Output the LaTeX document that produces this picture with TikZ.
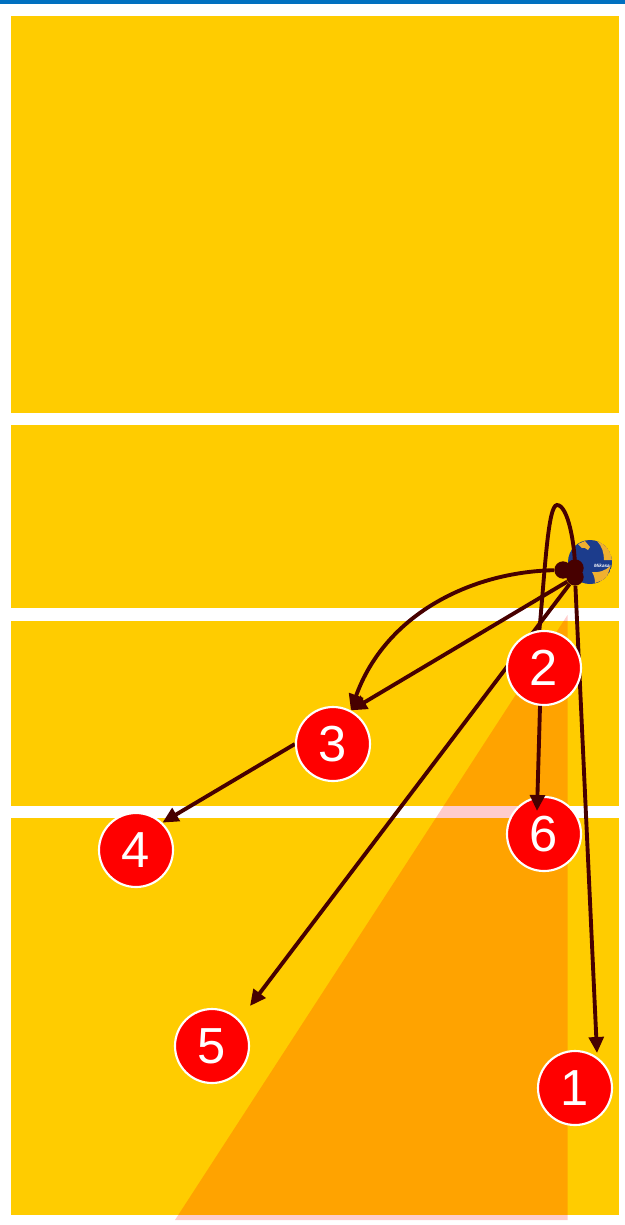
\documentclass[tikz,border=0pt]{standalone}
\usepackage{fontspec}
\setmainfont{Liberation Sans}
\usetikzlibrary{arrows.meta,positioning,backgrounds}
\pgfdeclarelayer{lines}
\pgfsetlayers{background,lines,main}
\definecolor{courtyellow}{HTML}{FFCC00}
\definecolor{topblue}{HTML}{0070C0}
\definecolor{pathbrown}{HTML}{470000}
\definecolor{ballblue}{HTML}{1C3C8C}
\definecolor{ballyellow}{HTML}{F0B030}
\tikzset{
  court/.style={fill=courtyellow},
  player/.style={circle,fill=red,draw=white,line width=1.6pt,minimum size=55.5pt,inner sep=0pt,
    text=white,font=\fontsize{38}{40}\selectfont},
  pass/.style={draw=pathbrown,line width=2.9pt},
  passto/.style={pass,-{Triangle[length=12pt,width=11pt]}},
  touch/.style={circle,fill=pathbrown,minimum size=13pt,inner sep=0pt}
}
\begin{document}
\begin{tikzpicture}[x=0.75pt,y=-0.75pt]
 \useasboundingbox (0,0) rectangle (625,1225);
 % players
 \node[player] (one) at (575,1088) {1};
 \node[player] (two) at (544,668) {2};
 \node[player] (three) at (333,744) {3};
 \node[player] (four) at (136,850) {4};
 \node[player] (five) at (212,1046) {5};
 \node[player] (six) at (544,834) {6};
 % ball contacts and free ends
 \coordinate (ball) at (590,562);
 \node[touch] (hitl) at (563,570) {};
 \node[touch] (hitr) at (575,568) {};
 \node[touch] (hitc) at (575,577) {};
 \coordinate (endone) at (597,1053);
 \coordinate (endfive) at (250,1006);
 \coordinate (endsix) at (537,811);
 \begin{scope}[on background layer]
  \fill[topblue] (0,0) rectangle (625,4);
  \fill[court] (11,16) rectangle (619,413);
  \fill[court] (11,425) rectangle (619,608);
  \fill[court] (11,621) rectangle (619,806);
  \fill[court] (11,818) rectangle (619,1215);
  \fill[red,fill opacity=0.2] (567.5,615)--(567.5,1220)--(175,1220)--cycle;
 \end{scope}
 \begin{pgfonlayer}{lines}
  % ball
  \begin{scope}
   \clip (ball) circle (22);
   \fill[ballblue] (ball) circle (22);
   \fill[ballyellow] (597,541)--(607,546)--(613,560)--(604,560)
     .. controls (604,553) and (602,546) .. cycle;
   \fill[ballyellow] (592,572) .. controls (598,573) and (606,571) .. (611,565)
     --(606,579)--(595,583) .. controls (595,579) and (594,575) .. cycle;
   \fill[ballyellow] (578,544)--(585,541)--(590,547)--(588,550)
     .. controls (586,548) and (583,547) .. (582,548)--cycle;
  \end{scope}
  \node[white,font=\fontsize{3.5}{4}\itshape\bfseries\selectfont] (brand) at (602,566) {Mikasa};
  % passes
  \draw[pass] (two.97) .. controls (545,570) and (548,505) .. (557,505)
    .. controls (568,505) and (575,545) .. (hitc);
  \draw[passto] (hitc)--(three.62);
  \draw[passto] (hitl) .. controls (470,572) and (385,615) .. (three.62);
  \draw[passto] (hitc)--(endfive);
  \draw[passto] (three.west)--(four.46);
  \draw[passto] (hitc)--(endone);
 \end{pgfonlayer}
 \draw[passto] (two.264)--(endsix);
\end{tikzpicture}
\end{document}
